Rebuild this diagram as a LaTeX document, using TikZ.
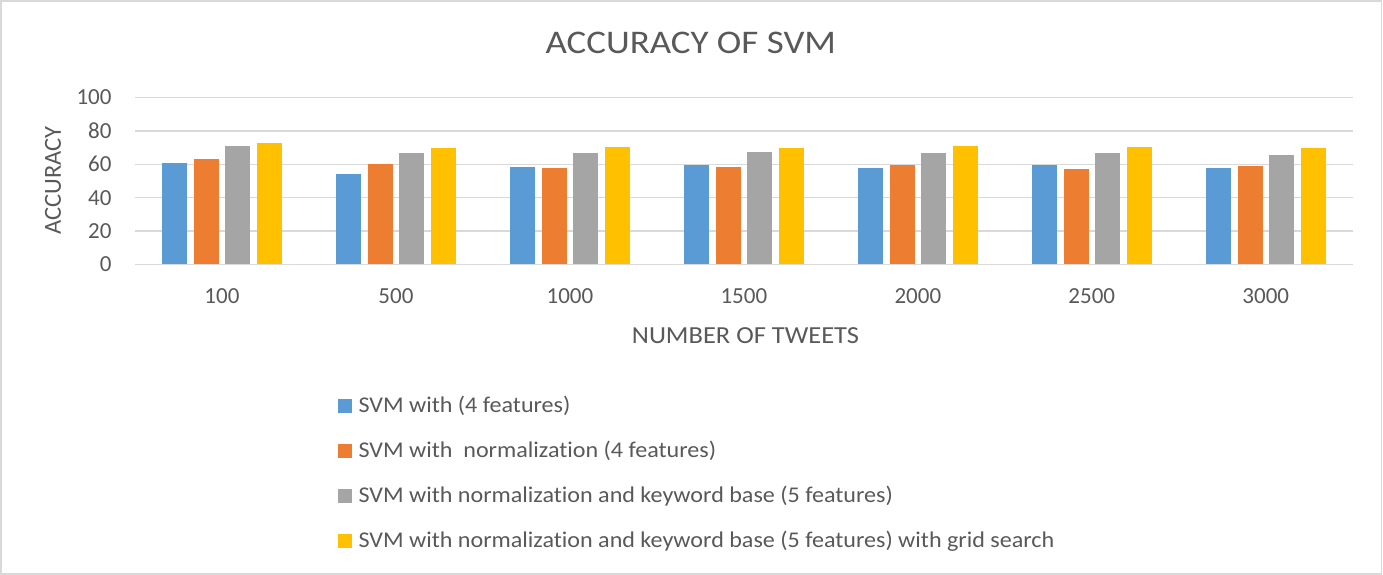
\documentclass[tikz,border=0pt]{standalone}
\usepackage{graphicx}
\usepackage{fontspec}
\setmainfont{Carlito}[Ligatures={NoCommon}]
\definecolor{txt}{HTML}{595959}
\definecolor{grid}{HTML}{D9D9D9}
\definecolor{sA}{HTML}{5B9BD5}
\definecolor{sB}{HTML}{ED7D31}
\definecolor{sC}{HTML}{A5A5A5}
\definecolor{sD}{HTML}{FFC000}
% widened text, as the chart sets it
\newcommand{\wide}[2]{\scalebox{#1}[1]{#2}}
\begin{document}
\begin{tikzpicture}[x=1pt,y=-1pt,
  gridline/.style={draw=grid,line width=1.5pt},
  tick/.style={text=txt,font=\fontsize{23}{27}\selectfont,inner sep=0pt},
  axtitle/.style={text=txt,font=\fontsize{24.5}{29}\selectfont,inner sep=0pt},
  lgd/.style={text=txt,font=\fontsize{22.5}{27}\selectfont,inner sep=0pt,anchor=west},
  barA/.style={fill=sA},barB/.style={fill=sB},barC/.style={fill=sC},barD/.style={fill=sD}]
\useasboundingbox (0,0) rectangle (1383,575);
\fill[white] (0,0) rectangle (1383,575);
\draw[draw=grid,line width=1.5pt] (1,1) rectangle (1381.5,574);
% title
\node[text=txt,font=\fontsize{33}{39}\selectfont,inner sep=0pt,anchor=base] (title) at (690.8,53.3) {\wide{1.12}{ACCURACY OF SVM}};
% horizontal grid and value labels
\def\yz{264.3}\def\yu{1.667}
\foreach \v in {0,20,...,100}{
  \draw[gridline] (135,{\yz-\yu*\v}) -- (1352.7,{\yz-\yu*\v});
  \node[tick,anchor=east] (t\v) at (111.7,{\yz-\yu*\v}) {\v};
}
% bars
\def\gw{173.96}
\foreach \lab/\a/\b/\c/\d [count=\i from 0] in {100/61/63/71/73, 500/54/60/67/70, 1000/58.5/58/67/70.5, 1500/59.5/58.5/67.5/69.5, 2000/58/59.5/67/71, 2500/59.5/57/66.5/70.5, 3000/58/59/65.5/69.5}{
  \pgfmathsetmacro{\cx}{135+\gw*(\i+0.5)}
  \fill[barA] ({\cx-47.25-12.5},\yz) rectangle ({\cx-47.25+12.5},{\yz-\yu*\a});
  \fill[barB] ({\cx-15.75-12.5},\yz) rectangle ({\cx-15.75+12.5},{\yz-\yu*\b});
  \fill[barC] ({\cx+15.75-12.5},\yz) rectangle ({\cx+15.75+12.5},{\yz-\yu*\c});
  \fill[barD] ({\cx+47.25-12.5},\yz) rectangle ({\cx+47.25+12.5},{\yz-\yu*\d});
  \node[tick,anchor=base] (c\i) at (\cx,303.3) {\lab};
}
% redraw the base line over the bars
\draw[gridline] (135,\yz) -- (1352.7,\yz);
% axis titles
\node[axtitle,rotate=90] (ytitle) at (53,180.6) {ACCURACY};
\node[axtitle,anchor=base] (xtitle) at (745.5,343.3) {\wide{1.08}{NUMBER OF TWEETS}};
% legend
\foreach \s/\t [count=\k from 0] in {barA/SVM with (4 features), barB/SVM with\ \ normalization (4 features), barC/SVM with normalization and keyword base (5 features), barD/SVM with normalization and keyword base (5 features) with grid search}{
  \fill[\s] (338.3,{406.3+45*\k-7}) rectangle (351.7,{406.3+45*\k+7});
  \node[lgd] (l\k) at (358.3,{406.3+45*\k}) {\wide{1.07}{\t}};
}
\end{tikzpicture}
\end{document}
